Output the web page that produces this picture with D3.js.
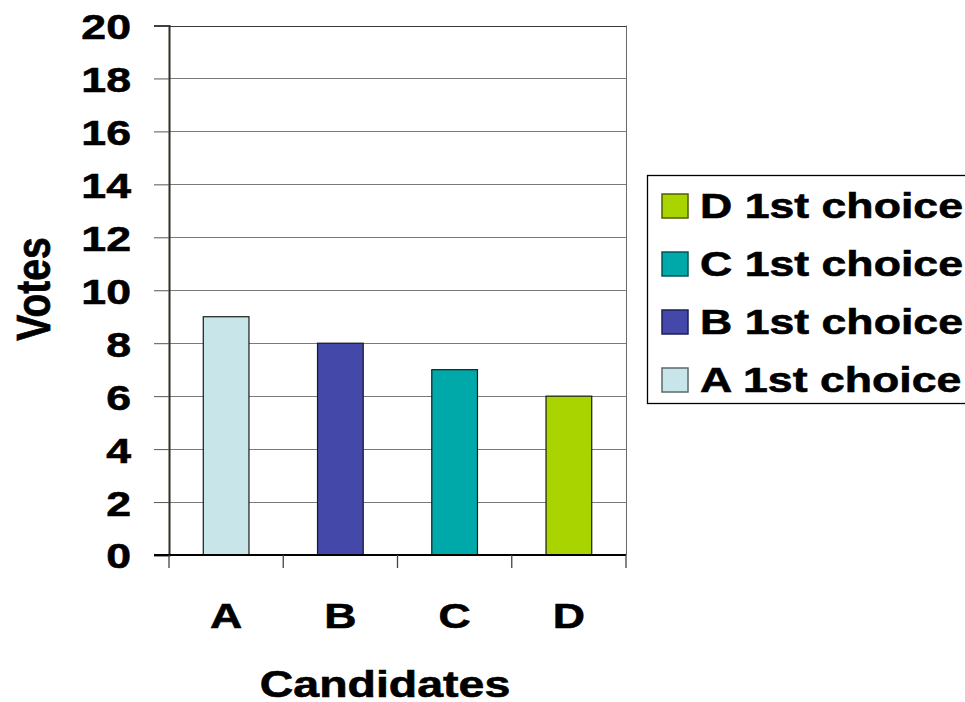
<!DOCTYPE html>
<html>
<head>
<meta charset="utf-8">
<script src="https://cdn.jsdelivr.net/npm/d3@7"></script>
<style>
  body { margin: 0; background: #fff; }
  text { font-family: "Liberation Sans", Arial, sans-serif; font-weight: bold; fill: #000; stroke: #000; stroke-width: 0.6px; }
</style>
</head>
<body>
<div id="chart"></div>
<script>
// chart data
const candidates = ["A", "B", "C", "D"];
const votes = [9, 8, 7, 6];
const seriesNames = ["A 1st choice", "B 1st choice", "C 1st choice", "D 1st choice"];
const colors = ["#c8e6e9", "#4448a8", "#00a9a9", "#a9d400"];
const strokes = ["#5c6a6c", "#1c1f55", "#005555", "#4d6000"];
const yTicks = [0, 2, 4, 6, 8, 10, 12, 14, 16, 18, 20];

const width = 965, height = 702;
const plot = { left: 169, right: 626, top: 25.5, bottom: 555 };
const sx = 1.24; // the picture is stretched sideways
const fs = 36;

const svg = d3.select("#chart")
    .append("svg")
    .attr("width", width)
    .attr("height", height);

const x = d3.scaleBand()
    .domain(candidates)
    .range([plot.left, plot.right])
    .padding(0);

const y = d3.scaleLinear()
    .domain([0, 20])
    .range([plot.bottom, plot.top]);

// gridlines
svg.append("g")
    .selectAll("line")
    .data(yTicks.filter(d => d > 0))
    .join("line")
    .attr("x1", plot.left)
    .attr("x2", plot.right)
    .attr("y1", d => Math.round(y(d)) + 0.5)
    .attr("y2", d => Math.round(y(d)) + 0.5)
    .attr("stroke", d => d === 20 ? "#3a3a3a" : "#7a7a7a")
    .attr("stroke-width", 1.2);

// right border of plot
svg.append("line")
    .attr("x1", plot.right + 0.5).attr("x2", plot.right + 0.5)
    .attr("y1", plot.top).attr("y2", plot.bottom)
    .attr("stroke", "#6a6a6a");

// bars
svg.append("g")
    .selectAll("rect")
    .data(candidates)
    .join("rect")
    .attr("x", d => x(d) + x.bandwidth() * 0.3)
    .attr("width", x.bandwidth() * 0.4)
    .attr("y", (d, i) => y(votes[i]))
    .attr("height", (d, i) => y(0) - y(votes[i]))
    .attr("fill", (d, i) => colors[i])
    .attr("stroke", "#1a1a1a")
    .attr("stroke-width", 1.2);

// y axis
const yAxis = svg.append("g")
    .attr("transform", `translate(${plot.left},0)`)
    .call(d3.axisLeft(y).tickValues(yTicks).tickSize(15).tickPadding(0));
yAxis.select(".domain").attr("stroke", "#2e2e22").attr("stroke-width", 2);
yAxis.selectAll(".tick line").attr("stroke", "#555");
yAxis.selectAll(".tick text")
    .attr("x", null)
    .attr("dy", null)
    .attr("font-size", fs)
    .attr("font-family", null)
    .attr("fill", null)
    .attr("text-anchor", "end")
    .attr("transform", `translate(-38,${fs * 0.36}) scale(${sx},1)`);

// x axis
const xAxis = svg.append("g")
    .attr("transform", `translate(0,${plot.bottom})`);
xAxis.append("line")
    .attr("x1", plot.left - 15).attr("x2", plot.right)
    .attr("y1", 0).attr("y2", 0)
    .attr("stroke", "#000").attr("stroke-width", 2);
xAxis.selectAll(".cat-tick")
    .data(candidates.map(d => x(d)).concat([plot.right]))
    .join("line")
    .attr("class", "cat-tick")
    .attr("x1", d => d).attr("x2", d => d)
    .attr("y1", 0).attr("y2", 13)
    .attr("stroke", "#444").attr("stroke-width", 1.3);
xAxis.selectAll(".cat-label")
    .data(candidates)
    .join("text")
    .attr("class", "cat-label")
    .attr("font-size", fs)
    .attr("text-anchor", "middle")
    .attr("transform", d => `translate(${x(d) + x.bandwidth() / 2},73) scale(${sx},1)`)
    .text(d => d);

// axis titles
svg.append("text")
    .attr("font-size", fs + 1.5)
    .attr("text-anchor", "middle")
    .attr("transform", `translate(385,697) scale(${sx},1)`)
    .text("Candidates");

svg.append("text")
    .attr("font-size", fs + 3)
    .attr("text-anchor", "middle")
    .attr("transform", `translate(50,289) scale(${sx},1) rotate(-90)`)
    .text("Votes");

// legend (reverse order, as in the picture)
const legend = svg.append("g");
legend.append("rect")
    .attr("x", 647.5).attr("y", 175.5)
    .attr("width", 340).attr("height", 228)
    .attr("fill", "#fff")
    .attr("stroke", "#000").attr("stroke-width", 1.3);

const order = d3.range(seriesNames.length).reverse();
const rows = legend.selectAll(".row")
    .data(order)
    .join("g")
    .attr("class", "row")
    .attr("transform", (d, i) => `translate(0,${218 + i * 58})`);
rows.append("rect")
    .attr("x", 662).attr("y", -24)
    .attr("width", 26).attr("height", 24)
    .attr("fill", d => colors[d])
    .attr("stroke", d => strokes[d])
    .attr("stroke-width", 1.5);
rows.append("text")
    .attr("font-size", fs)
    .attr("transform", `translate(700,0) scale(${sx},1)`)
    .text(d => seriesNames[d]);
</script>
</body>
</html>
